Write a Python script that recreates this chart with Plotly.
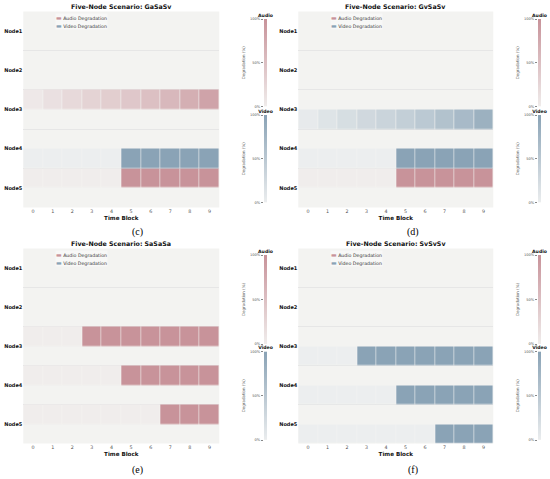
import plotly.graph_objects as go

nodes = ["Node1", "Node2", "Node3", "Node4", "Node5"]
time_blocks = [0, 1, 2, 3, 4, 5, 6, 7, 8, 9]

scenarios = ["GaSaSv", "GvSaSv", "SaSaSa", "SvSvSv"]
panel_tags = ["(c)", "(d)", "(e)", "(f)"]
legend_names = ["Audio Degradation", "Video Degradation"]

# degradation (%) per node and time block; a node not listed has no row
gasasv_audio = {"Node3": [5, 14, 22, 29, 35, 42, 50, 59, 69, 82],
                "Node5": [0, 0, 0, 0, 0, 100, 100, 100, 100, 100]}
gasasv_video = {"Node4": [0, 0, 0, 0, 0, 100, 100, 100, 100, 100]}

gvsasv_audio = {"Node5": [0, 0, 0, 0, 0, 100, 100, 100, 100, 100]}
gvsasv_video = {"Node3": [5, 14, 22, 29, 35, 42, 50, 59, 69, 82],
                "Node4": [0, 0, 0, 0, 0, 100, 100, 100, 100, 100]}

sasasa_audio = {"Node3": [0, 0, 0, 100, 100, 100, 100, 100, 100, 100],
                "Node4": [0, 0, 0, 0, 0, 100, 100, 100, 100, 100],
                "Node5": [0, 0, 0, 0, 0, 0, 0, 100, 100, 100]}
sasasa_video = {}

svsvsv_audio = {}
svsvsv_video = {"Node3": [0, 0, 0, 100, 100, 100, 100, 100, 100, 100],
                "Node4": [0, 0, 0, 0, 0, 100, 100, 100, 100, 100],
                "Node5": [0, 0, 0, 0, 0, 0, 0, 100, 100, 100]}

audio_data = [gasasv_audio, gvsasv_audio, sasasa_audio, svsvsv_audio]
video_data = [gasasv_video, gvsasv_video, sasasa_video, svsvsv_video]

# colour bar range (%) and its ticks
scale_ends = [0, 100]
scale_ticks = [0, 50, 100]
scale_labels = ["0%", "50%", "100%"]

AUDIO_COLOR, VIDEO_COLOR = "#c8939a", "#8aa3b6"
AUDIO_SCALE = [[0, "#f0edec"], [1, AUDIO_COLOR]]
VIDEO_SCALE = [[0, "#eceeef"], [1, VIDEO_COLOR]]
BG = "#f3f3f1"
FONT = "DejaVu Sans"
W, H = 550, 479


def px_x(v):
    return v / W


def px_y(v):
    return (H - v) / H


def half_rows(values_by_node, upper):
    # every node gets two half rows: audio above the tick, video below it
    ys, zs = [], []
    for i, name in enumerate(nodes):
        for off in (-0.25, 0.25):
            ys.append(i + off)
            if (off < 0) == upper and name in values_by_node:
                zs.append(values_by_node[name])
            else:
                zs.append([None] * len(time_blocks))
    return ys, zs


def ax(kind, n):
    return kind if n == 1 else f"{kind}{n}"


# pixel geometry of the 2x2 grid
main_x = [(23.3, 219.3), (298.3, 493.3)]
main_y = [(11.5, 207.5), (248.5, 443.5)]
bar_x = [(264.0, 267.0), (538.0, 541.0)]
bar_audio_y = [(19.0, 106.5), (255.0, 344.0)]
bar_video_y = [(115.0, 202.5), (351.5, 440.0)]
title_y = [6.7, 243.3]
tag_y = [232.0, 470.0]
tag_x = [137.5, 412.5]

fig = go.Figure()
layout = {}
annotations = []

for p, name in enumerate(scenarios):
    col, row = p % 2, p // 2
    n_main, n_aud, n_vid = 3 * p + 1, 3 * p + 2, 3 * p + 3

    for values, upper, scale in [(audio_data[p], True, AUDIO_SCALE),
                                 (video_data[p], False, VIDEO_SCALE)]:
        ys, zs = half_rows(values, upper)
        fig.add_trace(go.Heatmap(
            x=time_blocks, y=ys, z=zs, zmin=scale_ends[0], zmax=scale_ends[1],
            colorscale=scale, xgap=0.6, ygap=0.4, showscale=False,
            xaxis=ax("x", n_main), yaxis=ax("y", n_main), hoverinfo="skip",
        ))

    xd = [px_x(main_x[col][0]), px_x(main_x[col][1])]
    yd = [px_y(main_y[row][1]), px_y(main_y[row][0])]
    layout[ax("xaxis", n_main)] = dict(
        domain=xd, anchor=ax("y", n_main), range=[-0.5, 9.5],
        tickvals=time_blocks, ticks="", showgrid=False, zeroline=False,
        tickfont=dict(size=4.8, color="#555", family=FONT),
        title=dict(text="Time Block", standoff=2,
                   font=dict(size=5.6, color="#111", family=FONT, weight="bold")),
    )
    layout[ax("yaxis", n_main)] = dict(
        domain=yd, anchor=ax("x", n_main), range=[4.5, -0.5],
        tickvals=list(range(len(nodes))), ticktext=nodes, ticks="",
        showgrid=False, zeroline=False,
        minor=dict(tickvals=[0.5, 1.5, 2.5, 3.5], showgrid=True,
                   gridcolor="#e6e6e6", gridwidth=0.6, ticks=""),
        tickfont=dict(size=5.0, color="#111", family=FONT, weight="bold"),
    )

    # colour bars: a two-level heatmap smoothed into a gradient on its own axes
    for n_cb, bar_y, label, scale in [(n_aud, bar_audio_y[row], "Audio", AUDIO_SCALE),
                                      (n_vid, bar_video_y[row], "Video", VIDEO_SCALE)]:
        fig.add_trace(go.Heatmap(
            x=[0, 1], y=scale_ends, z=[[scale_ends[0]] * 2, [scale_ends[1]] * 2],
            zmin=scale_ends[0], zmax=scale_ends[1], colorscale=scale,
            zsmooth="best", showscale=False, hoverinfo="skip",
            xaxis=ax("x", n_cb), yaxis=ax("y", n_cb),
        ))
        layout[ax("xaxis", n_cb)] = dict(
            domain=[px_x(bar_x[col][0]), px_x(bar_x[col][1])],
            anchor=ax("y", n_cb), side="top", range=[0, 1], showticklabels=False,
            showgrid=False, zeroline=False, ticks="", fixedrange=True,
            title=dict(text=label, standoff=0,
                       font=dict(size=4.6, color="#111", family=FONT, weight="bold")),
        )
        layout[ax("yaxis", n_cb)] = dict(
            domain=[px_y(bar_y[1]), px_y(bar_y[0])], anchor=ax("x", n_cb),
            range=scale_ends, tickvals=scale_ticks, ticktext=scale_labels,
            ticks="outside", ticklen=2, tickwidth=0.5, tickcolor="#888",
            showgrid=False, zeroline=False, fixedrange=True,
            tickfont=dict(size=3.6, color="#555", family=FONT),
            title=dict(text="Degradation (%)", standoff=4,
                       font=dict(size=4.0, color="#555", family=FONT)),
        )

    annotations.append(dict(
        text=f"Five-Node Scenario: {name}", xref="paper", yref="paper",
        x=(xd[0] + xd[1]) / 2, y=px_y(title_y[row]), xanchor="center", yanchor="middle",
        showarrow=False, font=dict(size=6.3, color="#111", family=FONT, weight="bold"),
    ))
    annotations.append(dict(
        text=panel_tags[p], xref="paper", yref="paper",
        x=px_x(tag_x[col]), y=px_y(tag_y[row]), xanchor="center", yanchor="middle",
        showarrow=False, font=dict(size=10, color="#000", family="Liberation Serif"),
    ))
    # legend: one line per entry, a coloured bar glyph as the swatch
    for k, (label, color) in enumerate(zip(legend_names, [AUDIO_COLOR, VIDEO_COLOR])):
        annotations.append(dict(
            text=f"<span style='color:{color};font-size:6px'>▬</span> {label}",
            xref="paper", yref="paper", align="left",
            x=px_x(main_x[col][0] + 32), y=px_y(main_y[row][0] + 6.2 + 7.3 * k),
            xanchor="left", yanchor="middle", showarrow=False,
            bgcolor="rgba(255,255,255,0.45)", borderpad=0,
            font=dict(size=4.7, color="#333", family=FONT),
        ))

fig.update_layout(
    width=W, height=H, margin=dict(l=0, r=0, t=0, b=0, autoexpand=False),
    paper_bgcolor="white", plot_bgcolor=BG, showlegend=False,
    annotations=annotations, **layout,
)

# drop the default page margin so the figure sits at the window's corner
fig.write_html("out.html", config={"displayModeBar": False},
               post_script="document.body.style.margin='0';")
